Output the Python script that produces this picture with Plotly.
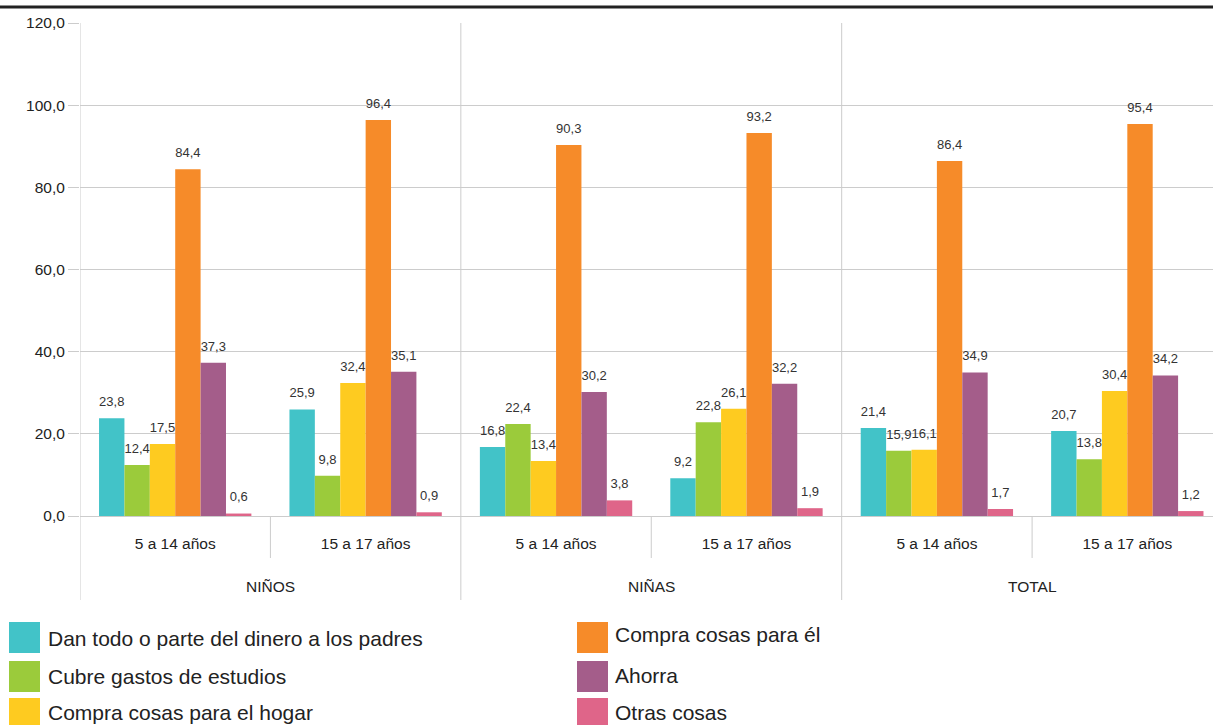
import plotly.graph_objects as go

groups = ["NIÑOS", "NIÑOS", "NIÑAS", "NIÑAS", "TOTAL", "TOTAL"]
ages = ["5 a 14 años", "15 a 17 años", "5 a 14 años", "15 a 17 años", "5 a 14 años", "15 a 17 años"]

series_names = [
    "Dan todo o parte del dinero a los padres",
    "Cubre gastos de estudios",
    "Compra cosas para el hogar",
    "Compra cosas para él",
    "Ahorra",
    "Otras cosas",
]
dan_padres = [23.8, 25.9, 16.8, 9.2, 21.4, 20.7]
gastos_estudios = [12.4, 9.8, 22.4, 22.8, 15.9, 13.8]
cosas_hogar = [17.5, 32.4, 13.4, 26.1, 16.1, 30.4]
cosas_para_el = [84.4, 96.4, 90.3, 93.2, 86.4, 95.4]
ahorra = [37.3, 35.1, 30.2, 32.2, 34.9, 34.2]
otras_cosas = [0.6, 0.9, 3.8, 1.9, 1.7, 1.2]
series_values = [dan_padres, gastos_estudios, cosas_hogar, cosas_para_el, ahorra, otras_cosas]
colors = ["#42C3C8", "#9BCB3B", "#FECB20", "#F68B29", "#A45D8A", "#DF6589"]

FONT = "Liberation Sans, Arial, sans-serif"
W, H = 1213, 725
L, R, T, B = 80, 0, 23, 209
pw, ph = W - L - R, H - T - B
LABEL_LIFT = 1.5  # gap (in axis units) between bar top and its value label

def px_x(x):
    return (x - L) / pw

def px_y(y):
    return (H - B - y) / ph

pos = list(range(len(ages)))

fig = go.Figure()
for k, (name, vals, col) in enumerate(zip(series_names, series_values, colors)):
    fig.add_trace(go.Bar(
        x=pos, y=vals, name=name, marker_color=col, offsetgroup=str(k),
        marker_line_width=0, showlegend=False,
    ))
    # transparent spacer bar sitting on top, carrying the value label
    fig.add_trace(go.Bar(
        x=pos, y=[LABEL_LIFT] * len(vals), base=vals, customdata=vals,
        offsetgroup=str(k), marker_color="rgba(0,0,0,0)", marker_line_width=0,
        texttemplate="%{customdata:.1f}", textposition="outside",
        textfont=dict(size=13, color="#333333", family=FONT),
        constraintext="none", cliponaxis=False, showlegend=False, hoverinfo="skip",
    ))

shapes = []
# top dark rule
shapes.append(dict(type="line", xref="paper", yref="paper", x0=px_x(0), x1=1,
                   y0=px_y(7), y1=px_y(7), line=dict(color="#222222", width=3)))

annotations = []
start = 0
for i in range(1, len(groups) + 1):
    if i == len(groups) or groups[i] != groups[start]:
        shapes.append(dict(type="line", xref="x", yref="paper", x0=start - 0.5, x1=start - 0.5,
                           y0=1, y1=px_y(600), line=dict(color="#cccccc", width=1)))
        for j in range(start + 1, i):
            shapes.append(dict(type="line", xref="x", yref="paper", x0=j - 0.5, x1=j - 0.5,
                               y0=0, y1=px_y(558), line=dict(color="#cccccc", width=1)))
        annotations.append(dict(xref="x", yref="paper", x=(start + i - 1) / 2, y=px_y(586),
                                text=groups[start], showarrow=False, xanchor="center", yanchor="middle",
                                font=dict(size=15.5, color="#222222", family=FONT)))
        start = i

sq_pos = [(9, 622), (9, 661), (9, 698), (577, 622), (577, 661), (577, 698)]
txt_pos = [(46, 638), (46, 676), (46, 712), (613, 634), (613, 675), (613, 712)]
for (sx, sy), (tx, ty), name, col in zip(sq_pos, txt_pos, series_names, colors):
    shapes.append(dict(type="rect", xref="paper", yref="paper",
                       x0=px_x(sx), x1=px_x(sx + 31), y0=px_y(sy), y1=px_y(sy + 31),
                       fillcolor=col, line=dict(width=0)))
    annotations.append(dict(xref="paper", yref="paper", x=px_x(tx), y=px_y(ty),
                            text=name, showarrow=False, xanchor="left", yanchor="middle",
                            font=dict(size=21, color="#222222", family=FONT)))

fig.update_layout(
    width=W, height=H,
    margin=dict(l=L, r=R, t=T, b=B, pad=0),
    paper_bgcolor="white", plot_bgcolor="white",
    separators=",.",
    barmode="group", bargap=0.2, bargroupgap=0,
    font=dict(family=FONT, size=15.5, color="#222222"),
    shapes=shapes, annotations=annotations,
    showlegend=False,
)
fig.update_xaxes(
    range=[-0.5, 5.45], tickvals=pos, ticktext=ages,
    showgrid=False, showline=False, zeroline=False,
    ticks="outside", ticklen=13, tickcolor="rgba(0,0,0,0)",
    tickfont=dict(size=15.5, color="#222222", family=FONT),
)
fig.update_yaxes(
    range=[0, 120], dtick=20, tickformat=".1f",
    showgrid=True, gridcolor="#cccccc", gridwidth=1,
    zeroline=True, zerolinecolor="#cccccc", zerolinewidth=1,
    showline=False,
    ticks="outside", ticklen=11, tickcolor="#cccccc",
    tickfont=dict(size=15.5, color="#222222", family=FONT),
)

fig.write_html("out.html", config={"displayModeBar": False},
               post_script="document.body.style.margin='0px';")
